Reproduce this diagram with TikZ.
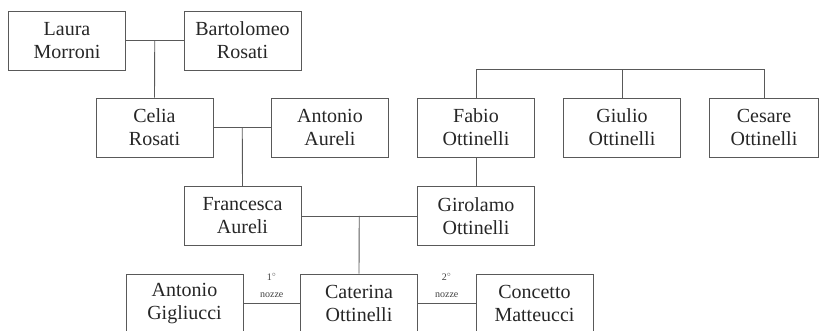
\documentclass[tikz,border=0pt]{standalone}
\usepackage{fontspec}
\setmainfont{Liberation Serif}
\usetikzlibrary{calc}
\begin{document}
\begin{tikzpicture}[x=1pt,y=-1pt,
  person/.style={draw=black!65, line width=0.9pt, minimum width=117pt, minimum height=59pt,
    align=center, inner sep=0pt, text=black!85, font=\fontsize{20}{23}\selectfont},
  link/.style={draw=black!65, line width=0.9pt},
  wed/.style={align=center, inner sep=0pt, text=black!75, font=\fontsize{10}{11}\selectfont}]
\useasboundingbox (0,0) rectangle (823,331);
% first generation
\node[person] (laura) at (67,40.5) {Laura\\Morroni};
\node[person] (bart) at (242.5,40.5) {Bartolomeo\\Rosati};
% second generation
\node[person] (celia) at (154.5,127.5) {Celia\\Rosati};
\node[person] (aureli) at (330,127.5) {Antonio\\Aureli};
\node[person] (fabio) at (476,127.5) {Fabio\\Ottinelli};
\node[person] (giulio) at (622,127.5) {Giulio\\Ottinelli};
\node[person, minimum width=109pt] (cesare) at (764,127.5) {Cesare\\Ottinelli};
% third generation
\node[person] (francesca) at (242.5,216) {Francesca\\Aureli};
\node[person] (girolamo) at (476,216) {Girolamo\\Ottinelli};
% fourth generation
\node[person] (gigliucci) at (184.5,303.5) {Antonio\\Gigliucci};
\node[person] (caterina) at (359,303.5) {Caterina\\Ottinelli};
\node[person] (concetto) at (534.5,303.5) {Concetto\\Matteucci};
% couples and their children
\draw[link] (laura.east) -- (bart.west);
\draw[link] ($(laura.east)!0.5!(bart.west)$) -- (celia.north);
\draw[link] (celia.east) -- (aureli.west);
\draw[link] ($(celia.east)!0.5!(aureli.west)$) -- (francesca.north);
\draw[link] (francesca.east) -- (girolamo.west);
\draw[link] ($(francesca.east)!0.5!(girolamo.west)$) -- (caterina.north);
% the Ottinelli brothers
\coordinate (top) at (0,69);
\draw[link] (fabio.north) -- (fabio.north |- top) -- (cesare.north |- top) -- (cesare.north);
\draw[link] (giulio.north) -- (giulio.north |- top);
\draw[link] (fabio.south) -- (girolamo.north);
% marriages of Caterina
\draw[link] (gigliucci.east) -- (caterina.west);
\draw[link] (caterina.east) -- (concetto.west);
\node[wed] (first) at ($(gigliucci.east)!0.5!(caterina.west)+(0,-18)$) {1$^{\circ}$\\[6pt]nozze};
\node[wed] (second) at ($(caterina.east)!0.5!(concetto.west)+(0,-18)$) {2$^{\circ}$\\[6pt]nozze};
\end{tikzpicture}
\end{document}
